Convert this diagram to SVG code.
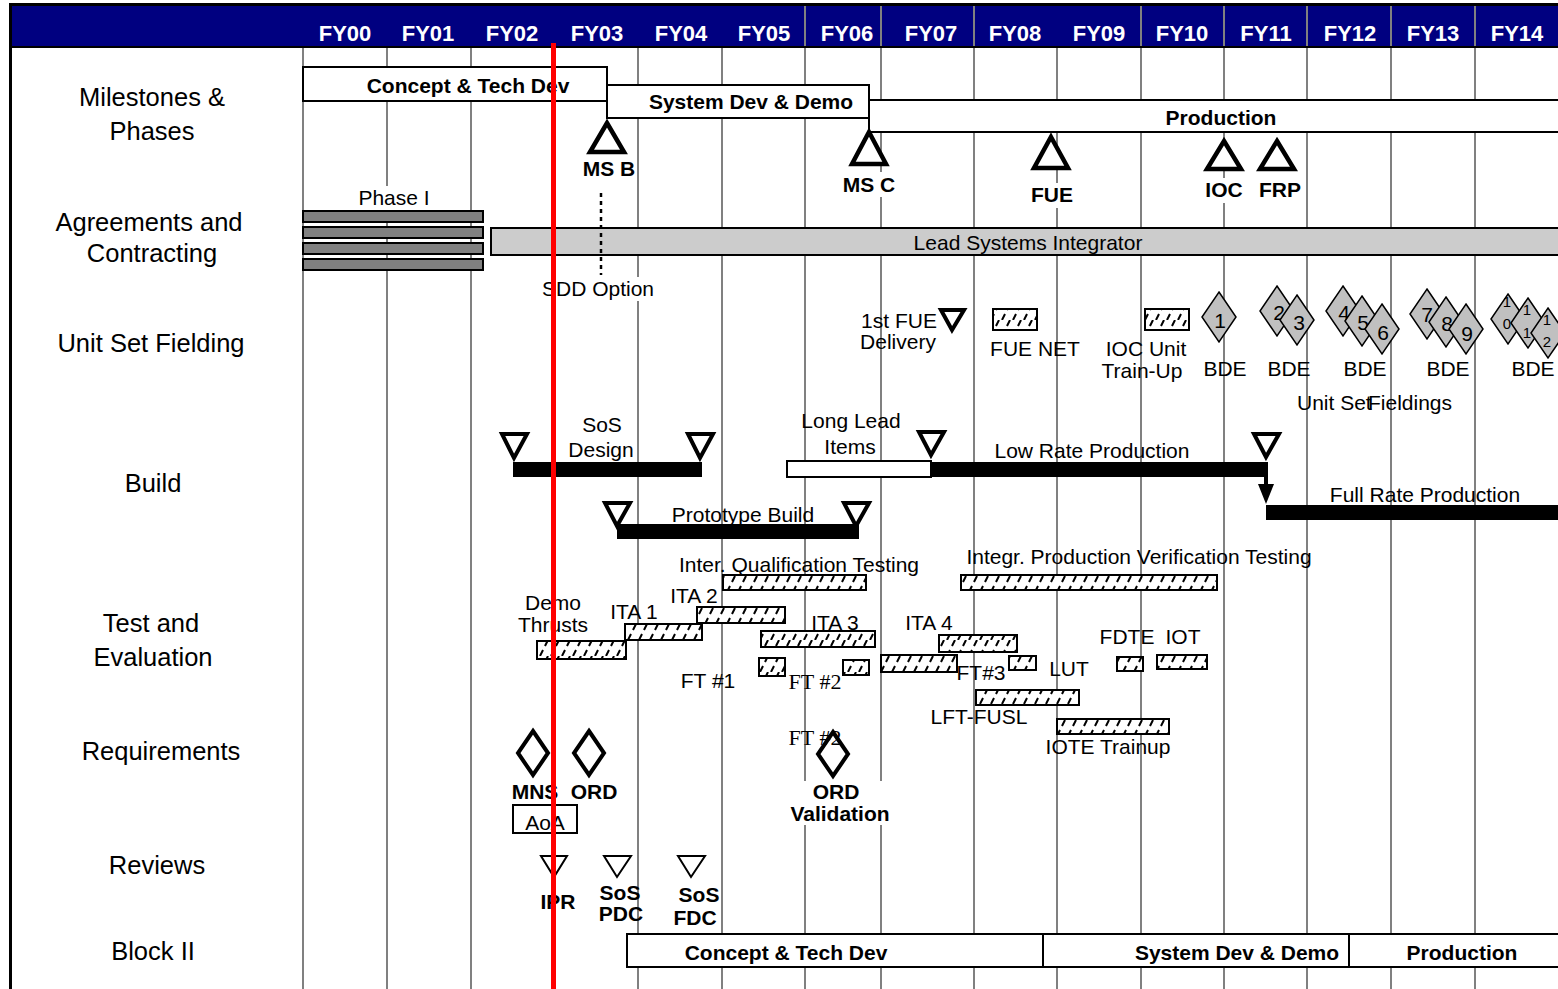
<svg xmlns="http://www.w3.org/2000/svg" width="1558" height="989" viewBox="0 0 1558 989">
<style>
text{font-family:"Liberation Sans",Arial,sans-serif;fill:#000}
.fy{font-size:22px;font-weight:bold;fill:#fff;text-anchor:middle}
.row{font-size:25.5px;text-anchor:middle}
.lbl{font-size:21px;text-anchor:middle}
.b{font-size:21px;font-weight:bold;text-anchor:middle}
.tm{font-family:"Liberation Serif","Times New Roman",serif;font-size:22px}
.num{font-size:21px;text-anchor:middle}
.sm{font-size:15px;text-anchor:middle}
.grid{stroke:#808080;stroke-width:2}
.box{fill:#fff;stroke:#000;stroke-width:2}
.ms{fill:#fff;stroke:#000;stroke-width:4.5;stroke-linejoin:miter}
.tri{fill:#fff;stroke:#000;stroke-width:4}
.rtri{fill:#fff;stroke:#000;stroke-width:2}
.bar{fill:#000}
.hatch{fill:url(#h);stroke:#000;stroke-width:2}
.gd{fill:#c0c0c0;stroke:#000;stroke-width:1.5}
.rd{fill:none;stroke:#000;stroke-width:4}
.bg{fill:#fff}
</style>
<defs>
<pattern id="h" width="11" height="16" patternUnits="userSpaceOnUse">
<rect width="11" height="16" fill="#fff"/>
<path d="M1,16 L4,10 M6,6 L9,0" stroke="#000" stroke-width="2"/>
</pattern>
<marker id="arr" markerWidth="5" markerHeight="4" refX="2.5" refY="2" orient="auto" markerUnits="strokeWidth">
<path d="M0,0 L5,2 L0,4 Z" fill="#000"/>
</marker>
</defs>
<rect width="1558" height="989" fill="#fff"/>
<g id="grid">
<g class="grid">
<line x1="303" y1="48" x2="303" y2="989"/>
<line x1="387" y1="48" x2="387" y2="989"/>
<line x1="471" y1="48" x2="471" y2="989"/>
<line x1="555" y1="48" x2="555" y2="989"/>
<line x1="638" y1="48" x2="638" y2="989"/>
<line x1="722" y1="48" x2="722" y2="989"/>
<line x1="805" y1="48" x2="805" y2="989"/>
<line x1="881" y1="48" x2="881" y2="989"/>
<line x1="974" y1="48" x2="974" y2="989"/>
<line x1="1057" y1="48" x2="1057" y2="989"/>
<line x1="1141" y1="48" x2="1141" y2="989"/>
<line x1="1224" y1="48" x2="1224" y2="989"/>
<line x1="1307" y1="48" x2="1307" y2="989"/>
<line x1="1391" y1="48" x2="1391" y2="989"/>
<line x1="1475" y1="48" x2="1475" y2="989"/>
</g>
</g>
<g id="header">
<rect x="10" y="3" width="1548" height="45" fill="#000"/>
<rect x="12" y="6" width="1546" height="40" fill="#000080"/>
<g class="grid">
<line x1="805" y1="6" x2="805" y2="46"/>
<line x1="881" y1="6" x2="881" y2="46"/>
<line x1="974" y1="6" x2="974" y2="46"/>
<line x1="1141" y1="6" x2="1141" y2="46"/>
<line x1="1224" y1="6" x2="1224" y2="46"/>
<line x1="1307" y1="6" x2="1307" y2="46"/>
<line x1="1391" y1="6" x2="1391" y2="46"/>
<line x1="1475" y1="6" x2="1475" y2="46"/>
</g>
<text class="fy" x="345" y="41">FY00</text>
<text class="fy" x="428" y="41">FY01</text>
<text class="fy" x="512" y="41">FY02</text>
<text class="fy" x="597" y="41">FY03</text>
<text class="fy" x="681" y="41">FY04</text>
<text class="fy" x="764" y="41">FY05</text>
<text class="fy" x="847" y="41">FY06</text>
<text class="fy" x="931" y="41">FY07</text>
<text class="fy" x="1015" y="41">FY08</text>
<text class="fy" x="1099" y="41">FY09</text>
<text class="fy" x="1182" y="41">FY10</text>
<text class="fy" x="1266" y="41">FY11</text>
<text class="fy" x="1350" y="41">FY12</text>
<text class="fy" x="1433" y="41">FY13</text>
<text class="fy" x="1517" y="41">FY14</text>
<rect x="9" y="3" width="3" height="986" fill="#000"/>
</g>
<g id="row-labels">
<text class="row" x="152" y="106">Milestones &amp;</text>
<text class="row" x="152" y="140">Phases</text>
<text class="row" x="149" y="231">Agreements and</text>
<text class="row" x="152" y="262">Contracting</text>
<text class="row" x="151" y="352">Unit Set Fielding</text>
<text class="row" x="153" y="492">Build</text>
<text class="row" x="151" y="632">Test and</text>
<text class="row" x="153" y="666">Evaluation</text>
<text class="row" x="161" y="760">Requirements</text>
<text class="row" x="157" y="874">Reviews</text>
<text class="row" x="153" y="960">Block II</text>
</g>
<g id="phase-concept">
<rect class="box" x="303" y="67" width="304" height="34"/>
<text class="b" x="468" y="93">Concept &amp; Tech Dev</text>
</g>
<g id="phase-sdd">
<rect class="box" x="607" y="85" width="262" height="33"/>
<text class="b" x="751" y="109">System Dev &amp; Demo</text>
</g>
<g id="phase-production">
<rect class="box" x="869" y="100" width="700" height="32"/>
<text class="b" x="1221" y="125">Production</text>
</g>
<g id="ms-b">
<polygon class="ms" points="607,123 624,152 590,152"/>
<text class="b" x="609" y="176">MS B</text>
</g>
<g id="ms-c">
<polygon class="ms" points="869,132 886,164 852,164"/>
<rect class="bg" x="841" y="172" width="56" height="25"/>
<text class="b" x="869" y="192">MS C</text>
</g>
<g id="ms-fue">
<polygon class="ms" points="1051,137 1068,168 1034,168"/>
<rect class="bg" x="1030" y="183" width="45" height="25"/>
<text class="b" x="1052" y="202">FUE</text>
</g>
<g id="ms-ioc">
<polygon class="ms" points="1224,141 1241,169 1207,169"/>
<rect class="bg" x="1203" y="178" width="43" height="25"/>
<text class="b" x="1224" y="197">IOC</text>
</g>
<g id="ms-frp">
<polygon class="ms" points="1277,141 1294,169 1260,169"/>
<text class="b" x="1280" y="197">FRP</text>
</g>
<g id="phase1">
<rect class="bg" x="352" y="186" width="85" height="24"/>
<text class="lbl" x="394" y="205">Phase I</text>
<g fill="#808080" stroke="#000" stroke-width="2">
<rect x="303" y="211" width="180" height="11"/>
<rect x="303" y="227" width="180" height="11"/>
<rect x="303" y="243" width="180" height="11"/>
<rect x="303" y="259" width="180" height="11"/>
</g>
</g>
<g id="lsi">
<rect x="491" y="228" width="1080" height="27" fill="#cccccc" stroke="#000" stroke-width="2"/>
<text class="lbl" x="1028" y="250">Lead Systems Integrator</text>
</g>
<g id="sdd-option">
<rect class="bg" x="543" y="277" width="115" height="24"/>
<text class="lbl" x="598" y="296">SDD Option</text>
</g>
<g id="fue-delivery">
<text class="lbl" x="899" y="328">1st FUE</text>
<text class="lbl" x="898" y="349">Delivery</text>
<polygon class="tri" points="941,310 964,310 952,330"/>
</g>
<g id="fue-net">
<rect class="hatch" x="993" y="309" width="44" height="21"/>
<text class="lbl" x="1035" y="356">FUE NET</text>
</g>
<g id="ioc-trainup">
<rect class="hatch" x="1145" y="309" width="44" height="21"/>
<text class="lbl" x="1146" y="356">IOC Unit</text>
<text class="lbl" x="1142" y="378">Train-Up</text>
</g>
<g id="bde-1">
<polygon class="gd" points="1219,292 1236,317 1219,342 1202,317"/>
<text class="num" x="1220" y="328">1</text>
<text class="lbl" x="1225" y="376">BDE</text>
</g>
<g id="bde-2">
<polygon class="gd" points="1277,286 1294,311 1277,336 1260,311"/>
<text class="num" x="1279" y="320">2</text>
<polygon class="gd" points="1297,295 1314,320 1297,345 1280,320"/>
<text class="num" x="1299" y="330">3</text>
<text class="lbl" x="1289" y="376">BDE</text>
</g>
<g id="bde-3">
<polygon class="gd" points="1343,286 1360,311 1343,336 1326,311"/>
<text class="num" x="1344" y="320">4</text>
<polygon class="gd" points="1362,296 1379,321 1362,346 1345,321"/>
<text class="num" x="1363" y="330">5</text>
<polygon class="gd" points="1382,304 1399,329 1382,354 1365,329"/>
<text class="num" x="1383" y="340">6</text>
<text class="lbl" x="1365" y="376">BDE</text>
</g>
<g id="bde-4">
<polygon class="gd" points="1427,289 1444,314 1427,339 1410,314"/>
<text class="num" x="1427" y="322">7</text>
<polygon class="gd" points="1446,297 1463,322 1446,347 1429,322"/>
<text class="num" x="1447" y="331">8</text>
<polygon class="gd" points="1466,304 1483,329 1466,354 1449,329"/>
<text class="num" x="1467" y="341">9</text>
<text class="lbl" x="1448" y="376">BDE</text>
</g>
<g id="bde-5">
<polygon class="gd" points="1508,294 1525,319 1508,344 1491,319"/>
<text class="sm" x="1507" y="307">1</text>
<text class="sm" x="1507" y="329">0</text>
<polygon class="gd" points="1528,298 1545,323 1528,348 1511,323"/>
<text class="sm" x="1527" y="315">1</text>
<text class="sm" x="1527" y="338">1</text>
<polygon class="gd" points="1548,308 1565,333 1548,358 1531,333"/>
<text class="sm" x="1547" y="325">1</text>
<text class="sm" x="1547" y="347">2</text>
<text class="lbl" x="1533" y="376">BDE</text>
</g>
<g id="unit-set-fieldings">
<text class="lbl" x="1297" y="410" style="text-anchor:start">Unit Set</text>
<text class="lbl" x="1368" y="410" style="text-anchor:start">Fieldings</text>
</g>
<g id="sos-design">
<text class="lbl" x="602" y="432">SoS</text>
<text class="lbl" x="601" y="457">Design</text>
<rect class="bar" x="513" y="462" width="189" height="15"/>
<polygon class="tri" points="502,434 527,434 514,458"/>
<polygon class="tri" points="688,434 713,434 700,458"/>
</g>
<g id="long-lead">
<text class="lbl" x="851" y="428">Long Lead</text>
<text class="lbl" x="850" y="454">Items</text>
<rect class="box" x="787" y="461" width="144" height="16"/>
</g>
<g id="low-rate">
<rect class="bar" x="931" y="462" width="337" height="15"/>
<polygon class="tri" points="919,432 944,432 931,455"/>
<text class="lbl" x="1092" y="458">Low Rate Production</text>
<polygon class="tri" points="1254,434 1279,434 1266,457"/>
</g>
<g id="full-rate">
<text class="lbl" x="1425" y="502">Full Rate Production</text>
<rect class="bar" x="1266" y="505" width="300" height="15"/>
</g>
<g id="prototype-build">
<polygon class="tri" points="605,503 630,503 617,526"/>
<polygon class="tri" points="844,503 869,503 856,526"/>
<text class="lbl" x="743" y="522">Prototype Build</text>
<rect class="bar" x="617" y="524" width="242" height="15"/>
</g>
<g id="connectors">
<line x1="601" y1="193" x2="601" y2="275" stroke="#000" stroke-width="2.5" stroke-dasharray="4,4"/>
<line x1="1266" y1="470" x2="1266" y2="494" stroke="#000" stroke-width="4" marker-end="url(#arr)"/>
</g>
<g id="iqt">
<text class="lbl" x="799" y="572">Inter. Qualification Testing</text>
<rect class="hatch" x="723" y="575" width="143" height="15"/>
</g>
<g id="ipvt">
<text class="lbl" x="1139" y="564">Integr. Production Verification Testing</text>
<rect class="hatch" x="961" y="575" width="256" height="15"/>
</g>
<g id="ita2">
<text class="lbl" x="694" y="603">ITA 2</text>
<rect class="hatch" x="697" y="607" width="88" height="16"/>
</g>
<g id="ita1">
<text class="lbl" x="634" y="619">ITA 1</text>
<rect class="hatch" x="625" y="624" width="77" height="16"/>
</g>
<g id="demo-thrusts">
<text class="lbl" x="553" y="610">Demo</text>
<text class="lbl" x="553" y="632">Thrusts</text>
<rect class="hatch" x="537" y="641" width="89" height="18"/>
</g>
<g id="ita3">
<text class="lbl" x="835" y="630">ITA 3</text>
<rect class="hatch" x="761" y="631" width="114" height="16"/>
</g>
<g id="ita4">
<text class="lbl" x="929" y="630">ITA 4</text>
<rect class="hatch" x="939" y="635" width="78" height="17"/>
</g>
<g id="ft1">
<rect class="hatch" x="759" y="658" width="26" height="18"/>
<text class="lbl" x="708" y="688">FT #1</text>
</g>
<g id="ft2">
<text class="tm" x="815" y="689" text-anchor="middle">FT #2</text>
<rect class="hatch" x="843" y="660" width="26" height="15"/>
</g>
<g id="test-wide">
<rect class="hatch" x="881" y="655" width="76" height="17"/>
</g>
<g id="ft3">
<text class="lbl" x="981" y="680">FT#3</text>
<rect class="hatch" x="1009" y="656" width="27" height="14"/>
</g>
<g id="lut">
<text class="lbl" x="1069" y="676">LUT</text>
</g>
<g id="lft-fusl">
<rect class="hatch" x="976" y="690" width="103" height="15"/>
<text class="lbl" x="979" y="724">LFT-FUSL</text>
</g>
<g id="iote">
<rect class="hatch" x="1057" y="719" width="112" height="15"/>
<text class="lbl" x="1108" y="754">IOTE Trainup</text>
</g>
<g id="fdte">
<text class="lbl" x="1127" y="644">FDTE</text>
<rect class="hatch" x="1117" y="657" width="26" height="14"/>
</g>
<g id="iot">
<text class="lbl" x="1183" y="644">IOT</text>
<rect class="hatch" x="1157" y="655" width="50" height="14"/>
</g>
<g id="mns">
<polygon class="rd" points="533,731 548,753 533,775 518,753"/>
<text class="b" x="535" y="799">MNS</text>
</g>
<g id="ord">
<polygon class="rd" points="589,731 604,753 589,775 574,753"/>
<text class="b" x="594" y="799">ORD</text>
</g>
<g id="aoa">
<rect class="box" x="513" y="805" width="64" height="28"/>
<text class="lbl" x="545" y="830">AoA</text>
</g>
<g id="ord-validation">
<text class="tm" x="815" y="745" text-anchor="middle">FT #2</text>
<polygon class="rd" points="833,732 848,754 833,776 818,754"/>
<rect class="bg" x="786" y="781" width="108" height="44"/>
<text class="b" x="836" y="799">ORD</text>
<text class="b" x="840" y="821">Validation</text>
</g>
<g id="ipr">
<polygon class="rtri" points="541,856 567,856 554,877"/>
<text class="b" x="558" y="909">IPR</text>
</g>
<g id="sos-pdc">
<polygon class="rtri" points="604,856 631,856 617,877"/>
<text class="b" x="620" y="900">SoS</text>
<text class="b" x="621" y="921">PDC</text>
</g>
<g id="sos-fdc">
<polygon class="rtri" points="678,856 705,856 691,877"/>
<text class="b" x="699" y="902">SoS</text>
<text class="b" x="695" y="925">FDC</text>
</g>
<g id="block2-concept">
<rect class="box" x="627" y="934" width="416" height="33"/>
<text class="b" x="786" y="960">Concept &amp; Tech Dev</text>
</g>
<g id="block2-sdd">
<rect class="box" x="1043" y="934" width="306" height="33"/>
<text class="b" x="1237" y="960">System Dev &amp; Demo</text>
</g>
<g id="block2-production">
<rect class="box" x="1349" y="934" width="220" height="33"/>
<text class="b" x="1462" y="960">Production</text>
</g>
<g id="today-line">
<rect x="551" y="43" width="5" height="946" fill="#ff0000"/>
</g>
</svg>
